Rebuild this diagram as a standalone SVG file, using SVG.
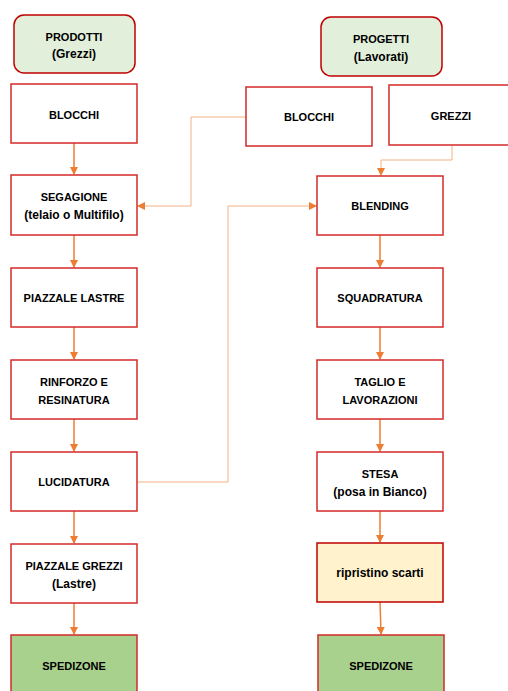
<svg xmlns="http://www.w3.org/2000/svg" width="508" height="691" viewBox="0 0 508 691">
<style>
.box{fill:#ffffff;stroke:#d42a2a;stroke-width:1.5}
.top{fill:#e2efda;stroke:#c00000;stroke-width:1.5}
.ship{fill:#a9d18e;stroke:#d42a2a;stroke-width:1.5}
.fix{fill:#fff2cc;stroke:#c00000;stroke-width:1.5}
text{font-family:"Liberation Sans",Arial,sans-serif;font-weight:bold;font-size:11px;fill:#000;text-anchor:middle}
text.lc{font-size:12px}
.arr{stroke:#ed7d31;stroke-width:1.5;fill:none}
.thin{stroke:#f4b183;stroke-width:1;fill:none}
</style>
<defs>
<marker id="ah" markerWidth="8" markerHeight="8" refX="7" refY="4" orient="auto" markerUnits="userSpaceOnUse">
<path d="M0,0 L8,4 L0,8 Z" fill="#ed7d31"/>
</marker>
</defs>
<g id="connectors">
<line class="arr" x1="74" y1="143" x2="74" y2="174" marker-end="url(#ah)"/>
<line class="arr" x1="74" y1="235" x2="74" y2="267" marker-end="url(#ah)"/>
<line class="arr" x1="74" y1="327" x2="74" y2="359" marker-end="url(#ah)"/>
<line class="arr" x1="74" y1="419" x2="74" y2="451" marker-end="url(#ah)"/>
<line class="arr" x1="74" y1="511" x2="74" y2="543" marker-end="url(#ah)"/>
<line class="arr" x1="74" y1="603" x2="74" y2="634" marker-end="url(#ah)"/>
<line class="arr" x1="380" y1="235" x2="380" y2="267" marker-end="url(#ah)"/>
<line class="arr" x1="380" y1="327" x2="380" y2="359" marker-end="url(#ah)"/>
<line class="arr" x1="380" y1="419" x2="380" y2="451" marker-end="url(#ah)"/>
<line class="arr" x1="380" y1="511" x2="380" y2="542" marker-end="url(#ah)"/>
<line class="arr" x1="380" y1="602" x2="381" y2="634" marker-end="url(#ah)"/>
<polyline class="thin" points="246,117 191,117 191,206 138,206" marker-end="url(#ah)"/>
<polyline class="thin" points="452,145 452,160 381,160 381,175" marker-end="url(#ah)"/>
<polyline class="thin" points="137,482 228,482 228,206 316,206" marker-end="url(#ah)"/>
</g>
<g id="prodotti"><rect class="top" x="14" y="15" width="121" height="58" rx="10"/><text x="74" y="41">PRODOTTI</text><text class="lc" x="74" y="58">(Grezzi)</text></g>
<g id="blocchi-l"><rect class="box" x="11" y="84" width="126" height="59"/><text x="74" y="119">BLOCCHI</text></g>
<g id="segagione"><rect class="box" x="11" y="175" width="126" height="60"/><text x="74" y="201">SEGAGIONE</text><text class="lc" x="74" y="219">(telaio o Multifilo)</text></g>
<g id="piazzale-lastre"><rect class="box" x="11" y="268" width="126" height="59"/><text x="74" y="302">PIAZZALE LASTRE</text></g>
<g id="rinforzo"><rect class="box" x="11" y="360" width="126" height="59"/><text x="74" y="386">RINFORZO E</text><text x="74" y="404">RESINATURA</text></g>
<g id="lucidatura"><rect class="box" x="11" y="452" width="126" height="59"/><text x="74" y="486">LUCIDATURA</text></g>
<g id="piazzale-grezzi"><rect class="box" x="11" y="544" width="126" height="59"/><text x="74" y="570">PIAZZALE GREZZI</text><text class="lc" x="74" y="588">(Lastre)</text></g>
<g id="spedizone-l"><rect class="ship" x="11" y="635" width="126" height="60"/><text x="74" y="670">SPEDIZONE</text></g>
<g id="progetti"><rect class="top" x="321" y="17" width="121" height="59" rx="10"/><text x="381" y="43">PROGETTI</text><text class="lc" x="381" y="61">(Lavorati)</text></g>
<g id="blocchi-r"><rect class="box" x="246" y="87" width="126" height="59"/><text x="309" y="121">BLOCCHI</text></g>
<g id="grezzi"><rect class="box" x="389" y="85" width="126" height="60"/><text x="451" y="120">GREZZI</text></g>
<g id="blending"><rect class="box" x="317" y="176" width="126" height="59"/><text x="380" y="210">BLENDING</text></g>
<g id="squadratura"><rect class="box" x="317" y="268" width="126" height="59"/><text x="380" y="302">SQUADRATURA</text></g>
<g id="taglio"><rect class="box" x="317" y="360" width="126" height="59"/><text x="380" y="386">TAGLIO E</text><text x="380" y="404">LAVORAZIONI</text></g>
<g id="stesa"><rect class="box" x="317" y="452" width="126" height="59"/><text x="380" y="478">STESA</text><text class="lc" x="380" y="496">(posa in Bianco)</text></g>
<g id="ripristino"><rect class="fix" x="317" y="543" width="126" height="59"/><text class="lc" x="380" y="577">ripristino scarti</text></g>
<g id="spedizone-r"><rect class="ship" x="318" y="635" width="126" height="60"/><text x="381" y="670">SPEDIZONE</text></g>
</svg>
